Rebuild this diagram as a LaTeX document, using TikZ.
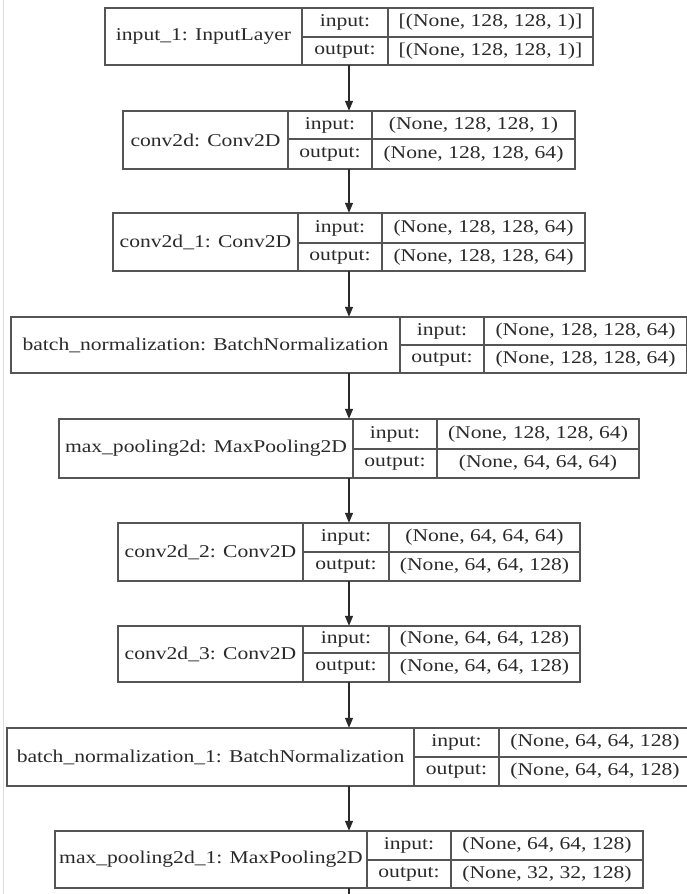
\documentclass[tikz,border=0pt]{standalone}
\usepackage{fontspec}
\setmainfont{Liberation Serif}[FakeStretch=1.2]
\usetikzlibrary{arrows.meta}
\definecolor{edge}{HTML}{555555}
\definecolor{ink}{HTML}{2A2A2A}
\definecolor{side}{HTML}{DCDCDC}
\tikzset{
  cell/.style={draw=edge, line width=1.4pt, inner sep=0pt, text=ink,
    font=\fontsize{18}{20}\selectfont, anchor=center},
  whole/.style={inner sep=0pt, anchor=center},
  conn/.style={draw=ink, line width=1.2pt, -{Triangle[length=10pt,width=8pt]}},
  tail/.style={draw=ink, line width=1.2pt}
}
% \layer{id}{L}{D1}{D2}{R}{T}{M}{B}{name}{input}{output}
\newcommand\layer[9]{%
  \def\Lid{#1}\def\LL{#2}\def\LA{#3}\def\LB{#4}\def\LR{#5}%
  \def\LT{#6}\def\LM{#7}\def\LBo{#8}\def\Lname{#9}\layerfinish}
\newcommand\layerfinish[2]{%
  \pgfmathsetmacro\wn{\LA-\LL}\pgfmathsetmacro\wl{\LB-\LA}\pgfmathsetmacro\wv{\LR-\LB}%
  \pgfmathsetmacro\hh{\LBo-\LT}\pgfmathsetmacro\hu{\LM-\LT}\pgfmathsetmacro\hd{\LBo-\LM}%
  \pgfmathsetmacro\cn{(\LL+\LA)/2}\pgfmathsetmacro\cl{(\LA+\LB)/2}\pgfmathsetmacro\cv{(\LB+\LR)/2}%
  \pgfmathsetmacro\cy{(\LT+\LBo)/2}\pgfmathsetmacro\cu{(\LT+\LM)/2}\pgfmathsetmacro\cd{(\LM+\LBo)/2}%
  \pgfmathsetmacro\cx{(\LL+\LR)/2}\pgfmathsetmacro\ww{\LR-\LL}%
  \node[cell, minimum width=\wn pt, minimum height=\hh pt] (\Lid-name) at (\cn,\cy) {\Lname};
  \node[cell, minimum width=\wl pt, minimum height=\hu pt] (\Lid-inl) at (\cl,\cu) {input:};
  \node[cell, minimum width=\wl pt, minimum height=\hd pt] (\Lid-outl) at (\cl,\cd) {output:};
  \node[cell, minimum width=\wv pt, minimum height=\hu pt] (\Lid-inv) at (\cv,\cu) {#1};
  \node[cell, minimum width=\wv pt, minimum height=\hd pt] (\Lid-outv) at (\cv,\cd) {#2};
  \node[whole, minimum width=\ww pt, minimum height=\hh pt] (\Lid) at (\cx,\cy) {};
}
\begin{document}
\begin{tikzpicture}[x={(1pt,0pt)}, y={(0pt,-1pt)}]
\useasboundingbox (0,0) rectangle (687,894);
\fill[white] (0,0) rectangle (687,894);
\draw[side, line width=1.2pt] (3.5,0) -- (3.5,894);

\layer{l1}{105}{302}{388}{593}{8}{37}{65}{input\_1: InputLayer}{[(None, 128, 128, 1)]}{[(None, 128, 128, 1)]}
\layer{l2}{123}{288}{372}{575}{111}{139}{169}{conv2d: Conv2D}{(None, 128, 128, 1)}{(None, 128, 128, 64)}
\layer{l3}{113}{298}{382}{585}{213}{243}{271}{conv2d\_1: Conv2D}{(None, 128, 128, 64)}{(None, 128, 128, 64)}
\layer{l4}{11}{400}{484}{687}{317}{345}{373}{batch\_normalization: BatchNormalization}{(None, 128, 128, 64)}{(None, 128, 128, 64)}
\layer{l5}{59}{353}{437}{639}{419}{449}{478}{max\_pooling2d: MaxPooling2D}{(None, 128, 128, 64)}{(None, 64, 64, 64)}
\layer{l6}{118}{303}{389}{580}{523}{552}{581}{conv2d\_2: Conv2D}{(None, 64, 64, 64)}{(None, 64, 64, 128)}
\layer{l7}{118}{303}{389}{580}{626}{653}{682}{conv2d\_3: Conv2D}{(None, 64, 64, 128)}{(None, 64, 64, 128)}
\layer{l8}{7}{414}{499}{691}{728}{757}{786}{batch\_normalization\_1: BatchNormalization}{(None, 64, 64, 128)}{(None, 64, 64, 128)}
\layer{l9}{55}{367}{451}{643}{831}{860}{888}{max\_pooling2d\_1: MaxPooling2D}{(None, 64, 64, 128)}{(None, 32, 32, 128)}

\draw[conn] (l1.south) -- (l2.north);
\draw[conn] (l2.south) -- (l3.north);
\draw[conn] (l3.south) -- (l4.north);
\draw[conn] (l4.south) -- (l5.north);
\draw[conn] (l5.south) -- (l6.north);
\draw[conn] (l6.south) -- (l7.north);
\draw[conn] (l7.south) -- (l8.north);
\draw[conn] (l8.south) -- (l9.north);
\coordinate (below) at (349,900);
\draw[tail] (l9.south) -- (l9.south |- below);
\end{tikzpicture}
\end{document}
